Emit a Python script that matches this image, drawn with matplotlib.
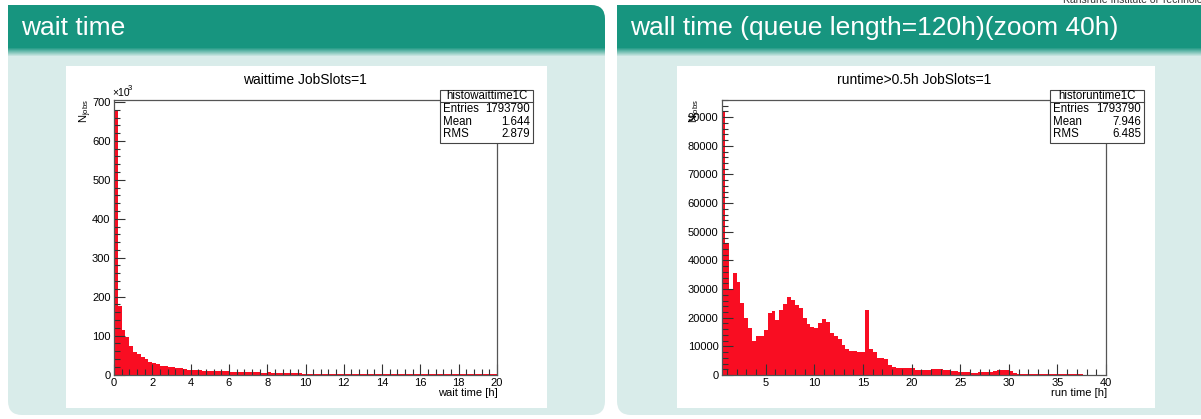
import numpy as np
import matplotlib.pyplot as plt
from matplotlib.patches import FancyBboxPatch, Rectangle
from matplotlib.ticker import MultipleLocator

plt.rcParams['font.family'] = ['Liberation Sans', 'DejaVu Sans']
plt.rcParams['mathtext.fontset'] = 'custom'
plt.rcParams['mathtext.rm'] = 'Liberation Sans'
plt.rcParams['mathtext.it'] = 'Liberation Sans'

W, H = 1201, 419

# wait time histogram, 0.2 h bins from 0 to 20 h, counts in units of 1000
wait_counts_k = [
    677, 176, 114, 96, 74, 57, 52, 44, 39, 33,
    30, 28, 22, 21, 20, 18, 17, 16, 13, 12,
    12, 11, 11, 10, 10, 9, 9, 8.5, 8.5, 8,
    7.5, 7, 7, 6.5, 6.5, 6, 5.5, 5.5, 5, 5,
    5.5, 5, 3.5, 3.2, 3, 2.8, 2.8, 2.7, 2.6, 2.5,
    2.4, 2.3, 2.2, 2.1, 2.0, 2.0, 1.9, 1.8, 1.8, 1.7,
    1.7, 1.6, 1.6, 1.5, 1.5, 1.4, 1.4, 1.3, 1.3, 1.3,
    1.2, 1.2, 1.2, 1.1, 1.1, 1.1, 1.0, 1.0, 1.0, 1.0,
    1.2, 1.3, 1.3, 1.1, 1.0, 0.9, 0.9, 0.9, 0.9, 0.8,
    0.8, 0.8, 0.8, 0.8, 0.8, 0.8, 0.8, 0.8, 0.8, 0.8,
]
wait_edges = np.linspace(0, 20, len(wait_counts_k) + 1)

# run time histogram (runtime > 0.5 h), 0.4 h bins from 0.4 to 40 h
run_counts = [
    91700, 46000, 30000, 35600, 32500, 25000, 20000, 16400, 11900, 13700,
    13600, 15700, 21800, 22400, 19200, 22700, 24800, 27400, 26200, 24500,
    23400, 19900, 17800, 16900, 16400, 18300, 19600, 18600, 14800, 13600,
    12400, 10500, 9000, 8500, 8500, 8200, 8200, 22700, 9000, 8000,
    6000, 5800, 5600, 3600, 2800, 2500, 2300, 2300, 2400, 2300,
    1800, 1800, 1800, 1900, 2100, 2100, 2000, 1900, 1900, 1400,
    1300, 1100, 1000, 900, 800, 800, 900, 900, 900, 1000,
    1300, 1700, 1800, 1800, 1500, 700, 400, 350, 350, 300,
    300, 300, 300, 250, 250, 250, 250, 200, 200, 200,
    200, 200, 200, 150, 150, 150, 150, 150, 150,
]
run_edges = np.linspace(0.4, 40, len(run_counts) + 1)

wait_stats = [("Entries", "1793790"), ("Mean", "1.644"), ("RMS", "2.879")]
run_stats = [("Entries", "1793790"), ("Mean", "7.946"), ("RMS", "6.485")]

header_col = '#17957f'
body_col = '#d9ecea'
hist_col = '#f90d22'
frame_col = '#555555'

fig = plt.figure(figsize=(W / 100, H / 100), dpi=100)
fig.patch.set_facecolor('white')
bg = fig.add_axes([0, 0, 1, 1])
bg.set_xlim(0, W)
bg.set_ylim(H, 0)
bg.axis('off')


def panel(x0, x1, title):
    bg.add_patch(FancyBboxPatch((x0, 5), x1 - x0, 410, boxstyle='round,pad=0,rounding_size=14',
                                fc=body_col, ec='none'))
    bg.add_patch(FancyBboxPatch((x0, 5), x1 - x0, 46, boxstyle='round,pad=0,rounding_size=14',
                                fc=header_col, ec='none'))
    bg.add_patch(Rectangle((x0, 5), 30, 46, fc=header_col, ec='none'))
    bg.add_patch(Rectangle((x0, 30), x1 - x0, 21, fc=header_col, ec='none'))
    # soft fade from header into the panel body
    c0 = np.array(plt.matplotlib.colors.to_rgb(header_col))
    c1 = np.array(plt.matplotlib.colors.to_rgb(body_col))
    for i in range(8):
        t = (i + 1) / 9
        bg.add_patch(Rectangle((x0, 48 + i * 1.0), x1 - x0, 1.0, fc=c0 * (1 - t) + c1 * t, ec='none'))
    bg.text(x0 + 13, 28, title, color='white', fontsize=19, ha='left', va='center')


panel(8, 605, 'wait time')
panel(617, 1230, 'wall time (queue length=120h)(zoom 40h)')
bg.text(1063, 0, 'Karlsruhe Institute of Technology', fontsize=7.5, color='#333333',
        ha='left', va='center')

bg.add_patch(Rectangle((66, 66), 481, 342, fc='white', ec='none'))
bg.add_patch(Rectangle((677, 66), 478, 342, fc='white', ec='none'))


def hist_axes(x0, x1, y0, y1):
    ax = fig.add_axes([x0 / W, 1 - y1 / H, (x1 - x0) / W, (y1 - y0) / H])
    ax.set_facecolor('white')
    for s in ax.spines.values():
        s.set_color(frame_col)
        s.set_linewidth(0.9)
    ax.tick_params(which='both', direction='in', color='#333333', width=0.8,
                   labelsize=8, pad=2.5, top=False, right=False)
    ax.tick_params(which='major', length=8)
    ax.tick_params(which='minor', length=4)
    return ax


# left: wait time
ax1 = hist_axes(114, 497, 100, 374.5)
ax1.stairs(wait_counts_k, wait_edges, fill=True, color=hist_col, lw=0)
ax1.set_xlim(0, 20)
ax1.set_ylim(0, 705)
ax1.xaxis.set_major_locator(MultipleLocator(2))
ax1.xaxis.set_minor_locator(MultipleLocator(0.4))
ax1.yaxis.set_major_locator(MultipleLocator(100))
ax1.yaxis.set_minor_locator(MultipleLocator(20))

# right: run time
ax2 = hist_axes(722, 1106, 100, 375)
ax2.stairs(run_counts, run_edges, fill=True, color=hist_col, lw=0)
ax2.set_xlim(0.5, 40)
ax2.set_ylim(0, 96000)
ax2.xaxis.set_major_locator(MultipleLocator(5))
ax2.xaxis.set_minor_locator(MultipleLocator(1))
ax2.yaxis.set_major_locator(MultipleLocator(10000))
ax2.yaxis.set_minor_locator(MultipleLocator(2000))

# titles and axis labels
bg.text(305, 80, 'waittime JobSlots=1', fontsize=10, ha='center', va='center')
bg.text(914, 80, 'runtime>0.5h JobSlots=1', fontsize=10, ha='center', va='center')
bg.text(498, 393, 'wait time [h]', fontsize=8, ha='right', va='center')
bg.text(1107, 393, 'run time [h]', fontsize=8, ha='right', va='center')
bg.text(86, 99, r'N$_{\mathrm{jobs}}$', fontsize=8, rotation=90, ha='center', va='top')
bg.text(696, 99, r'N$_{\mathrm{jobs}}$', fontsize=8, rotation=90, ha='center', va='top')
bg.text(112, 93, '×10', fontsize=7.5, ha='left', va='center')
bg.text(128, 88, '3', fontsize=5.5, ha='left', va='center')


def stats_box(x0, x1, name, rows):
    tr = bg.transData
    fig.add_artist(Rectangle((x0, 90), x1 - x0, 53, transform=tr, fc='white',
                             ec='#444444', lw=0.8, zorder=5))
    fig.add_artist(plt.Line2D([x0, x1], [102, 102], transform=tr, color='#444444',
                              lw=0.8, zorder=6))
    fig.add_artist(plt.Text((x0 + x1) / 2, 96, name, transform=tr, fontsize=8.3,
                            ha='center', va='center', zorder=7))
    for i, (k, v) in enumerate(rows):
        y = 109 + i * 12.5
        fig.add_artist(plt.Text(x0 + 3, y, k, transform=tr, fontsize=8.3,
                                ha='left', va='center', zorder=7))
        fig.add_artist(plt.Text(x1 - 3, y, v, transform=tr, fontsize=8.3,
                                ha='right', va='center', zorder=7))


stats_box(440, 533, 'histowaittime1C', wait_stats)
stats_box(1050, 1144, 'historuntime1C', run_stats)

fig.savefig('out.png', dpi=100)
